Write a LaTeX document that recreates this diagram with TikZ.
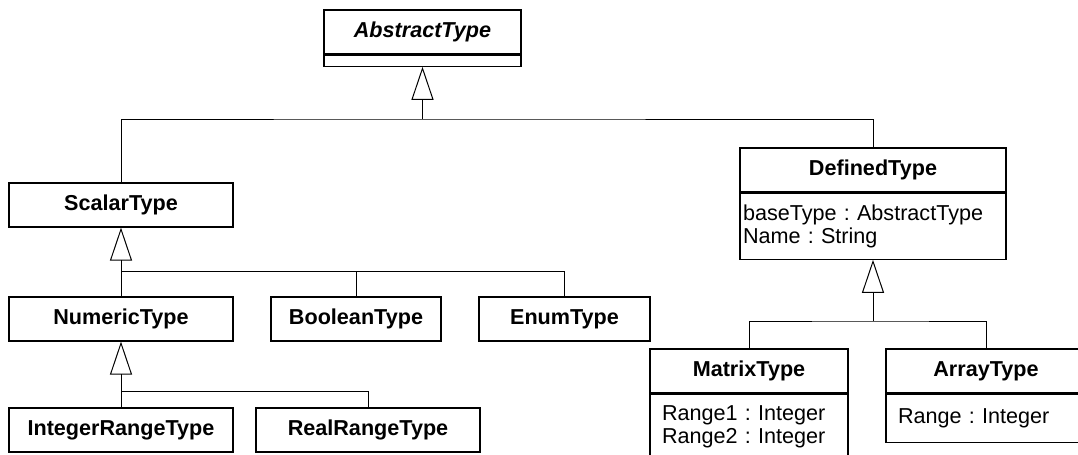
\documentclass[tikz,border=0pt]{standalone}
\usepackage{fontspec}
\setmainfont{Liberation Sans}
\frenchspacing
\usetikzlibrary{arrows.meta,positioning}
\tikzset{
  classbox/.style={draw=black, line width=0.6pt, fill=white, inner sep=0pt,
    minimum height=22pt, font=\bfseries\fontsize{10.8}{11.5}\selectfont},
  attrbox/.style={draw=black, line width=0.6pt, fill=white, inner xsep=6pt,
    inner ysep=0pt, align=left, font=\fontsize{10.8}{11.5}\selectfont},
  inherit/.style={-{Triangle[open, length=16.5pt, width=11pt]}, line width=0.5pt, draw=black},
  busline/.style={line width=0.5pt, draw=black}
}

\begin{document}
\begin{tikzpicture}[x=0.5pt, y=-0.5pt]
        \useasboundingbox (0,0) rectangle (1078,455);
        \clip (0,0) rectangle (1078,455);

        % root class with empty attribute part
        \node[classbox, minimum width=98.5pt, font=\bfseries\itshape\fontsize{10.8}{11.5}\selectfont] (abs) at (422.5,32) {AbstractType};
        \node[attrbox, below=0pt of abs, minimum width=98.5pt, minimum height=5.5pt] (absattr) {};

        % scalar branch
        \node[classbox, minimum width=112pt] (scalar) at (121,205) {ScalarType};
        \node[classbox, minimum width=112pt] (numeric) at (121,319) {NumericType};
        \node[classbox, minimum width=85pt] (boolean) at (356,319) {BooleanType};
        \node[classbox, minimum width=85.5pt] (enum) at (564.5,319) {EnumType};
        \node[classbox, minimum width=112pt] (intrange) at (121,430) {IntegerRangeType};
        \node[classbox, minimum width=112pt] (realrange) at (368,430) {RealRangeType};

        % defined branch
        \node[classbox, minimum width=133pt] (defined) at (873,170) {DefinedType};
        \node[attrbox, below=0pt of defined, inner xsep=1.5pt, text width=130pt, minimum height=33pt] (definedattr)
            {baseType : AbstractType\\Name : String};
        \node[classbox, minimum width=99pt] (matrix) at (749,371) {MatrixType};
        \node[attrbox, below=0pt of matrix, text width=87pt, minimum height=33pt] (matrixattr)
            {Range1 : Integer\\Range2 : Integer};
        \node[classbox, minimum width=100pt] (array) at (986,371) {ArrayType};
        \node[attrbox, below=0pt of array, text width=88pt, minimum height=24pt] (arrayattr)
            {Range : Integer};

        % junctions of the generalization trees
        \coordinate (j1) at (absattr.south |- 0,119);
        \coordinate (j2) at (scalar.south |- 0,271);
        \coordinate (j3) at (numeric.south |- 0,391);
        \coordinate (j4) at (definedattr.south |- 0,321);

        \draw[inherit] (j1) -- (absattr.south);
        \draw[busline] (scalar.north) |- (j1) -| (defined.north);

        \draw[inherit] (j2) -- (scalar.south);
        \draw[busline] (numeric.north) -- (j2) -| (enum.north);
        \draw[busline] (boolean.north) -- (boolean.north |- j2);

        \draw[inherit] (j3) -- (numeric.south);
        \draw[busline] (intrange.north) -- (j3) -| (realrange.north);

        \draw[inherit] (j4) -- (definedattr.south);
        \draw[busline] (matrix.north) |- (j4) -| (array.north);
    \end{tikzpicture}
\end{document}
